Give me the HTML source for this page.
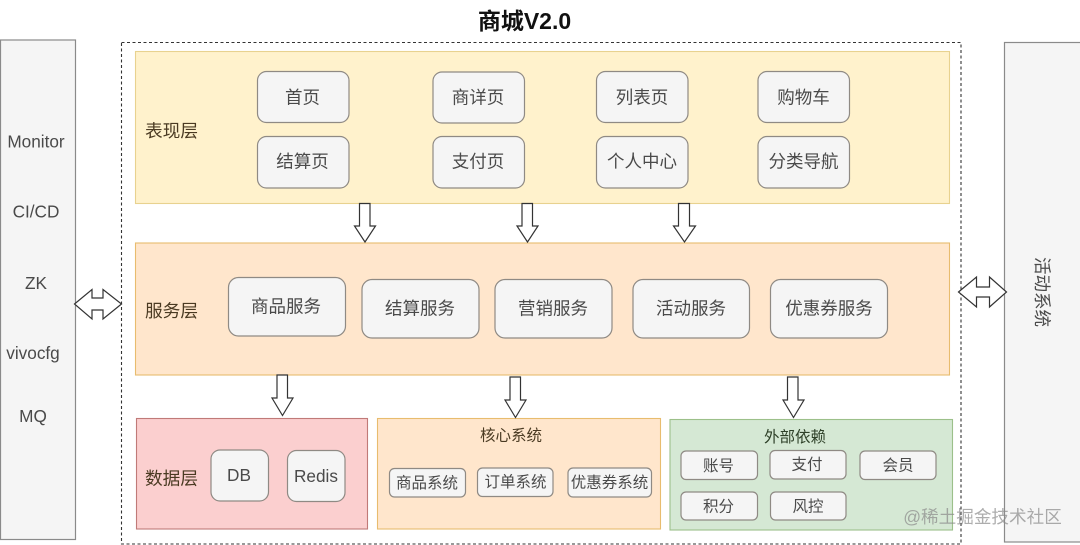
<!DOCTYPE html>
<html><head><meta charset="utf-8">
<style>
html,body{margin:0;padding:0;background:#fff;width:1080px;height:545px;overflow:hidden}
svg{display:block;font-family:"Liberation Sans","Noto Sans CJK SC",sans-serif;filter:blur(.35px)}
text{text-anchor:middle;dominant-baseline:central;fill:#4a4a4a}
.n{fill:#f5f5f5;stroke:#8f8a84;stroke-width:1.2}
.a{fill:#fff;stroke:#333;stroke-width:1.2}
.l{font-size:17.7px;fill:#4a3a22}
.t{font-size:17.5px}
.e{font-size:17.2px}
.s{font-size:15.5px}
</style></head><body>
<svg width="1080" height="545" viewBox="0 0 1080 545" xmlns="http://www.w3.org/2000/svg">
<text x="524.5" y="21" style="font-size:23px;font-weight:bold;fill:#111">商城V2.0</text>
<rect x="0.5" y="40" width="75" height="499.5" fill="#f5f5f5" stroke="#8a8a8a" stroke-width="1.2"/>
<rect x="1004.5" y="42.5" width="80" height="499.5" fill="#f5f5f5" stroke="#8a8a8a" stroke-width="1.2"/>
<rect x="121.5" y="42.5" width="839.5" height="501.5" fill="#fff" stroke="#333" stroke-width="1.1" stroke-dasharray="3 2.5"/>

<rect x="135.5" y="51.5" width="814" height="152" fill="#fff2cc" stroke="#e8d28f" stroke-width="1.1"/>
<rect x="135.5" y="243" width="814" height="132" fill="#ffe6cc" stroke="#e8bc6e" stroke-width="1.1"/>
<rect x="136.5" y="418.5" width="231" height="110.5" fill="#fbcfcf" stroke="#c07a78" stroke-width="1.1"/>
<rect x="377.5" y="418.5" width="283" height="110.5" fill="#ffe6cc" stroke="#e8bc6e" stroke-width="1.1"/>
<rect x="670" y="419.5" width="282.5" height="110.5" fill="#d5e8d4" stroke="#9cc08a" stroke-width="1.1"/>

<text class="e" x="36" y="141.5">Monitor</text>
<text class="e" x="36" y="211.5">CI/CD</text>
<text class="e" x="36" y="283">ZK</text>
<text class="e" x="33" y="353">vivocfg</text>
<text class="e" x="33" y="416">MQ</text>
<text class="t" transform="translate(1042,292) rotate(90)">活动系统</text>

<text class="l" x="171.5" y="131">表现层</text>
<text class="l" x="171.5" y="311">服务层</text>
<text class="l" x="171.5" y="478.5">数据层</text>

<rect class="n" x="257.5" y="71.5" width="91.5" height="51" rx="9"/><text class="t" x="302.5" y="97.5">首页</text>
<rect class="n" x="433" y="72" width="91.5" height="51" rx="9"/><text class="t" x="478" y="97.5">商详页</text>
<rect class="n" x="596.5" y="71.5" width="91.5" height="51" rx="9"/><text class="t" x="642" y="97.5">列表页</text>
<rect class="n" x="758" y="71.5" width="91.5" height="51" rx="9"/><text class="t" x="803.5" y="97.5">购物车</text>
<rect class="n" x="257.5" y="136.5" width="91.5" height="51.5" rx="9"/><text class="t" x="302.5" y="161.5">结算页</text>
<rect class="n" x="433" y="136.5" width="91.5" height="51.5" rx="9"/><text class="t" x="478" y="161.5">支付页</text>
<rect class="n" x="596.5" y="136.5" width="91.5" height="51.5" rx="9"/><text class="t" x="642" y="161.5">个人中心</text>
<rect class="n" x="758" y="136.5" width="91.5" height="51.5" rx="9"/><text class="t" x="803.5" y="161.5">分类导航</text>

<rect class="n" x="228.5" y="277.5" width="117" height="58.5" rx="10"/><text class="t" x="286" y="306.5">商品服务</text>
<rect class="n" x="362" y="279.5" width="117" height="58.5" rx="10"/><text class="t" x="420" y="308.5">结算服务</text>
<rect class="n" x="495" y="279.5" width="117" height="58.5" rx="10"/><text class="t" x="553" y="308.5">营销服务</text>
<rect class="n" x="633" y="279.5" width="116.5" height="58.5" rx="10"/><text class="t" x="691" y="308.5">活动服务</text>
<rect class="n" x="770.5" y="279.5" width="117" height="58.5" rx="10"/><text class="t" x="829" y="308.5">优惠券服务</text>

<rect class="n" x="211" y="450" width="57.5" height="51" rx="9"/><text class="e" x="239" y="475">DB</text>
<rect class="n" x="287.5" y="450.5" width="57.5" height="51" rx="9"/><text class="e" x="316" y="476">Redis</text>

<text class="s" x="511" y="436" style="fill:#4a3a22">核心系统</text>
<rect class="n" x="389.5" y="468.5" width="76" height="28.5" rx="5"/><text class="s" x="427" y="483.5">商品系统</text>
<rect class="n" x="477.5" y="468" width="75.5" height="28.5" rx="5"/><text class="s" x="515.5" y="482.5">订单系统</text>
<rect class="n" x="568" y="468" width="83.5" height="29" rx="5"/><text class="s" x="609.5" y="483">优惠券系统</text>

<text class="s" x="795" y="437.5" style="fill:#2e4028">外部依赖</text>
<rect class="n" x="681" y="451" width="76.5" height="28.5" rx="5"/><text class="s" x="718.5" y="466.5">账号</text>
<rect class="n" x="770" y="450.5" width="76" height="28.5" rx="5"/><text class="s" x="807" y="465">支付</text>
<rect class="n" x="860" y="451" width="76" height="28.5" rx="5"/><text class="s" x="898" y="466">会员</text>
<rect class="n" x="681" y="492" width="76.5" height="28" rx="5"/><text class="s" x="718.5" y="507">积分</text>
<rect class="n" x="770.5" y="492" width="75.5" height="28" rx="5"/><text class="s" x="808" y="507">风控</text>

<polygon class="a" points="359.5,203.5 370,203.5 370,226 375.5,226 365,242 354.5,226 359.5,226"/>
<polygon class="a" points="522,203.5 532.5,203.5 532.5,226 538,226 527.5,242 517,226 522,226"/>
<polygon class="a" points="678.5,203.5 689.5,203.5 689.5,226 695.5,226 684.5,242 673.5,226 678.5,226"/>
<polygon class="a" points="277,375 287.5,375 287.5,398 293,398 282.5,415.5 272,398 277,398"/>
<polygon class="a" points="510,377 520.5,377 520.5,400 526,400 515.5,417.5 505,400 510,400"/>
<polygon class="a" points="787.5,377 798,377 798,400 804,400 793.5,417.5 783,400 787.5,400"/>
<polygon class="a" points="74.5,304 92,289.5 92,298 103,298 103,289.5 121.5,304 103,319 103,310 92,310 92,319"/>
<polygon class="a" points="958.5,292 976.5,277 976.5,287 989.5,287 989.5,277 1006.5,292 989.5,307 989.5,297 976.5,297 976.5,307"/>

<text x="982.5" y="517" style="font-size:17.6px;fill:#8a8a8a;opacity:.7">@稀土掘金技术社区</text>
</svg>
</body></html>
